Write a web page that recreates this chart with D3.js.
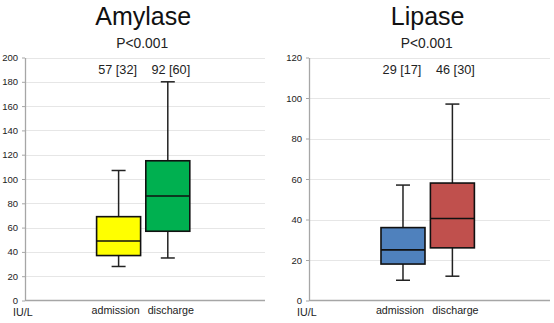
<!DOCTYPE html>
<html>
<head>
<meta charset="utf-8">
<script src="https://cdn.jsdelivr.net/npm/d3@7"></script>
<style>
  body { margin: 0; background: white; }
  svg { display: block; font-family: "Liberation Sans", Arial, sans-serif; }
</style>
</head>
<body>
<svg width="554" height="323"></svg>
<script>
// groups on the x axis
var groups = ["admission", "discharge"];

// box stats per group: [min, q1, median, q3, max]
var amylaseStats = [[28, 37, 49, 69, 107], [35, 57, 86, 115, 180]];
var lipaseStats = [[10, 18, 25, 36, 57], [12, 26, 40.5, 58, 97]];

// summary labels above boxes
var amylaseLabels = ["57 [32]", "92 [60]"];
var lipaseLabels = ["29 [17]", "46 [30]"];

var amylaseTicks = [0, 20, 40, 60, 80, 100, 120, 140, 160, 180, 200];
var lipaseTicks = [0, 20, 40, 60, 80, 100, 120];

var amylaseColors = ["#ffff00", "#00b050"];
var lipaseColors = ["#4f81bd", "#c0504d"];

var AXIS_COLOR = "#a6a6a6",
    GRID_COLOR = "#e6e6e6",
    TOP = 57.5,
    BOTTOM = 300.5,
    BOX_W = 44,
    CAP_W = 14;

var svg = d3.select("svg");

function drawPanel(opt) {
    var g = svg.append("g");
    var y = d3.scaleLinear().domain([0, opt.max]).range([BOTTOM, TOP]);
    var w = opt.right - opt.left;
    var x = d3.scalePoint()
        .domain(groups)
        .range([opt.left + 0.39 * w, opt.left + 0.595 * w]);

    // grid
    g.selectAll(".grid")
        .data(opt.ticks.filter(function(d) { return d > 0; }))
        .enter().append("line")
        .attr("x1", opt.left)
        .attr("x2", opt.right)
        .attr("y1", function(d) { return Math.round(y(d)) + 0.5; })
        .attr("y2", function(d) { return Math.round(y(d)) + 0.5; })
        .style("stroke", GRID_COLOR)
        .style("stroke-width", 1);

    // y axis
    var yAxis = g.append("g")
        .attr("transform", "translate(" + opt.left + ",0)")
        .call(d3.axisLeft(y).tickValues(opt.ticks).tickSize(3).tickPadding(4).tickSizeOuter(0));
    yAxis.select(".domain").style("stroke", AXIS_COLOR).style("stroke-width", 1.3);
    yAxis.selectAll(".tick line").style("stroke", AXIS_COLOR);
    yAxis.selectAll(".tick text")
        .style("font-family", "Liberation Sans, Arial, sans-serif")
        .style("font-size", "9.5px")
        .style("fill", "#222");

    // x axis line
    g.append("line")
        .attr("x1", opt.left)
        .attr("x2", opt.right)
        .attr("y1", BOTTOM)
        .attr("y2", BOTTOM)
        .style("stroke", AXIS_COLOR)
        .style("stroke-width", 1.5);

    // boxes
    var boxes = g.selectAll(".box")
        .data(opt.stats)
        .enter().append("g");
    boxes.append("line")
        .attr("x1", function(d, i) { return x(groups[i]); })
        .attr("x2", function(d, i) { return x(groups[i]); })
        .attr("y1", function(d) { return y(d[0]); })
        .attr("y2", function(d) { return y(d[4]); })
        .style("stroke", "#222")
        .style("stroke-width", 1.5);
    [0, 4].forEach(function(k) {
        boxes.append("line")
            .attr("x1", function(d, i) { return x(groups[i]) - CAP_W / 2; })
            .attr("x2", function(d, i) { return x(groups[i]) + CAP_W / 2; })
            .attr("y1", function(d) { return y(d[k]); })
            .attr("y2", function(d) { return y(d[k]); })
            .style("stroke", "#222")
            .style("stroke-width", 1.5);
    });
    boxes.append("rect")
        .attr("x", function(d, i) { return x(groups[i]) - BOX_W / 2; })
        .attr("y", function(d) { return y(d[3]); })
        .attr("width", BOX_W)
        .attr("height", function(d) { return y(d[1]) - y(d[3]); })
        .style("fill", function(d, i) { return opt.colors[i]; })
        .style("stroke", "#111")
        .style("stroke-width", 1.6);
    boxes.append("line")
        .attr("x1", function(d, i) { return x(groups[i]) - BOX_W / 2; })
        .attr("x2", function(d, i) { return x(groups[i]) + BOX_W / 2; })
        .attr("y1", function(d) { return y(d[2]); })
        .attr("y2", function(d) { return y(d[2]); })
        .style("stroke", "#111")
        .style("stroke-width", 1.6);

    // group labels
    g.selectAll(".cat")
        .data(groups)
        .enter().append("text")
        .attr("x", function(d, i) { return x(d) + (i === 0 ? -3 : 3); })
        .attr("y", 314)
        .style("font-size", "10.7px")
        .style("fill", "#222")
        .style("text-anchor", "middle")
        .text(function(d) { return d; });

    g.append("text")
        .attr("x", opt.left - 12)
        .attr("y", 316)
        .style("font-size", "10.7px")
        .style("fill", "#222")
        .text("IU/L");

    // summary numbers
    g.selectAll(".sum")
        .data(opt.labels)
        .enter().append("text")
        .attr("x", function(d, i) { return x(groups[i]) + (i === 0 ? -1 : 3); })
        .attr("y", 73.5)
        .style("font-size", "12.7px")
        .style("fill", "#222")
        .style("text-anchor", "middle")
        .text(function(d) { return d; });

    var mid = (x(groups[0]) + x(groups[1])) / 2;
    g.append("text")
        .attr("x", mid - 1)
        .attr("y", 47.5)
        .style("font-size", "13.8px")
        .style("fill", "#222")
        .style("text-anchor", "middle")
        .text("P<0.001");
    g.append("text")
        .attr("x", mid)
        .attr("y", 25)
        .style("font-size", "25px")
        .style("fill", "#111")
        .style("text-anchor", "middle")
        .text(opt.title);
}

drawPanel({title: "Amylase", left: 25, right: 265, max: 200, ticks: amylaseTicks,
           stats: amylaseStats, labels: amylaseLabels, colors: amylaseColors});
drawPanel({title: "Lipase", left: 309, right: 550, max: 120, ticks: lipaseTicks,
           stats: lipaseStats, labels: lipaseLabels, colors: lipaseColors});
</script>
</body>
</html>
